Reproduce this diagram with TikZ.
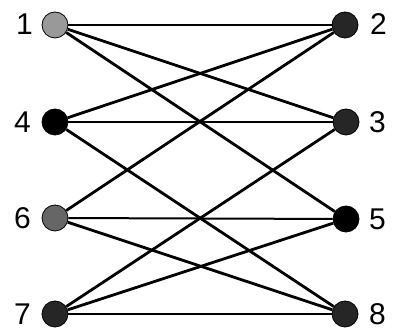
\documentclass[tikz,border=0pt]{standalone}
\usepackage{fontspec}
\setmainfont{Liberation Sans}
\begin{document}
\begin{tikzpicture}[x=1pt,y=-1pt,
  vtx/.style={circle,draw=black,line width=0.8pt,minimum size=26pt,inner sep=0pt},
  lbl/.style={font=\fontsize{30}{30}\selectfont,inner sep=0pt},
  diag/.style={line width=2.8pt},
  horiz/.style={line width=2pt}]
\useasboundingbox (0,0) rectangle (394,336);
\node[vtx,fill=black!40] (n1) at (55,25) {};
\node[vtx,fill=black!85] (n2) at (345,25) {};
\node[vtx,fill=black] (n4) at (55,122) {};
\node[vtx,fill=black!85] (n3) at (346,122) {};
\node[vtx,fill=black!60] (n6) at (55,218) {};
\node[vtx,fill=black] (n5) at (346,219) {};
\node[vtx,fill=black!85] (n7) at (55,314) {};
\node[vtx,fill=black!85] (n8) at (345,314) {};
\node[lbl,anchor=east] (l1) at (33,24) {1};
\node[lbl,anchor=east] (l4) at (31,122) {4};
\node[lbl,anchor=east] (l6) at (31,218) {6};
\node[lbl,anchor=east] (l7) at (31,314) {7};
\node[lbl,anchor=west] (l2) at (370,24) {2};
\node[lbl,anchor=west] (l3) at (369,122) {3};
\node[lbl,anchor=west] (l5) at (369,219) {5};
\node[lbl,anchor=west] (l8) at (369,314) {8};
\draw[horiz] (n1) -- (n2);
\draw[horiz] (n4) -- (n3);
\draw[horiz] (n6) -- (n5);
\draw[horiz] (n7) -- (n8);
\draw[diag] (n1) -- (n3);
\draw[diag] (n1) -- (n5);
\draw[diag] (n4) -- (n2);
\draw[diag] (n4) -- (n8);
\draw[diag] (n6) -- (n2);
\draw[diag] (n6) -- (n8);
\draw[diag] (n7) -- (n3);
\draw[diag] (n7) -- (n5);
\end{tikzpicture}
\end{document}
